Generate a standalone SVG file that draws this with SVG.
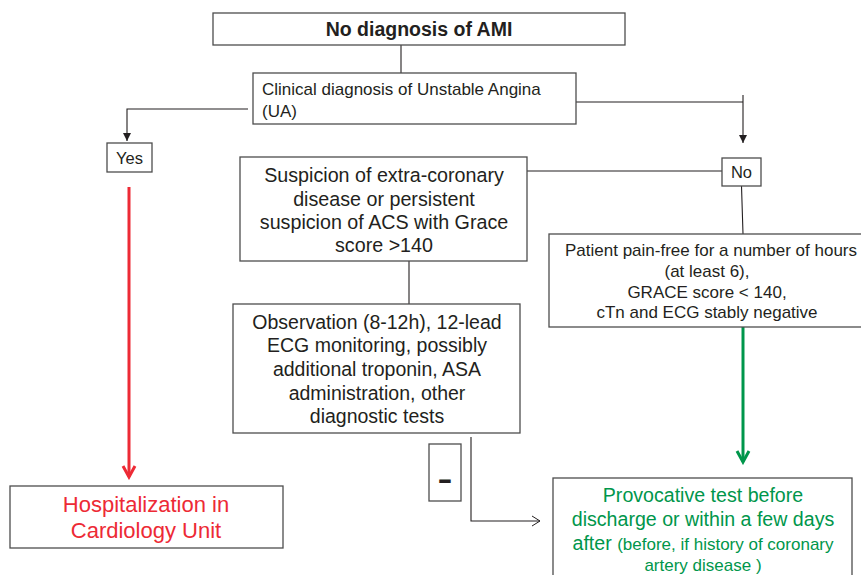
<svg xmlns="http://www.w3.org/2000/svg" width="861" height="575" viewBox="0 0 861 575">
<style>
.box{fill:#fff;stroke:#4d4d4d;stroke-width:1.3}
.t{font-family:"Liberation Sans",Arial,sans-serif;fill:#231f20}
.c{text-anchor:middle}
.ln{fill:none;stroke:#231f20;stroke-width:1.1}
.red{fill:#ed2a35}
.grn{fill:#00964b}
</style>
<defs>
<marker id="ab" markerWidth="10" markerHeight="10" refX="8" refY="5" orient="auto" markerUnits="userSpaceOnUse">
<path d="M0,1 L8,5 L0,9 Z" fill="#231f20"/>
</marker>
<marker id="ar" markerWidth="16" markerHeight="16" refX="13" refY="8" orient="auto" markerUnits="userSpaceOnUse">
<path d="M2,2 L13,8 L2,14" fill="none" stroke="#ed2a35" stroke-width="3"/>
</marker>
<marker id="ag" markerWidth="16" markerHeight="16" refX="13" refY="8" orient="auto" markerUnits="userSpaceOnUse">
<path d="M2,2 L13,8 L2,14" fill="none" stroke="#00964b" stroke-width="3"/>
</marker>
<marker id="ao" markerWidth="12" markerHeight="12" refX="9" refY="6" orient="auto" markerUnits="userSpaceOnUse">
<path d="M1,1 L9,6 L1,11" fill="none" stroke="#231f20" stroke-width="1"/>
</marker>
</defs>
<rect width="861" height="575" fill="#fff"/>
<g id="connectors">
<path class="ln" d="M401,45 V73"/>
<path class="ln" d="M401,109 V124"/>
<path class="ln" d="M248,109 H127 V141" marker-end="url(#ab)"/>
<path class="ln" d="M576,102 H743"/>
<path class="ln" d="M743,95 V143" marker-end="url(#ab)"/>
<path class="ln" d="M527,171 H722"/>
<path class="ln" d="M741.5,186 L743,234"/>
<path class="ln" d="M409,261 V304"/>
<path class="ln" d="M471,437 V521 H540" marker-end="url(#ao)"/>
<path d="M129,187 V477" fill="none" stroke="#ed2a35" stroke-width="3" marker-end="url(#ar)"/>
<path d="M743,327 V462" fill="none" stroke="#00964b" stroke-width="3" marker-end="url(#ag)"/>
</g>
<g id="n-ami">
<rect class="box" x="213" y="13" width="412" height="32"/>
<text class="t c" x="419" y="36" font-size="19.5" font-weight="bold">No diagnosis of AMI</text>
</g>
<g id="n-ua">
<rect class="box" x="253" y="73" width="323" height="51"/>
<text class="t" x="262" y="95" font-size="17">Clinical diagnosis of Unstable Angina</text>
<text class="t" x="262" y="117" font-size="17">(UA)</text>
</g>
<g id="n-yes">
<rect class="box" x="107" y="143" width="45" height="29"/>
<text class="t c" x="129.5" y="163.5" font-size="16.5">Yes</text>
</g>
<g id="n-no">
<rect class="box" x="722" y="158" width="39" height="28"/>
<text class="t c" x="741.5" y="178" font-size="16.5">No</text>
</g>
<g id="n-susp">
<rect class="box" x="240" y="157" width="287" height="104"/>
<text class="t c" font-size="19.7"><tspan x="384" y="182">Suspicion of extra-coronary</tspan><tspan x="384" y="206">disease or persistent</tspan><tspan x="384" y="229">suspicion of ACS with Grace</tspan><tspan x="384" y="252">score &gt;140</tspan></text>
</g>
<g id="n-obs">
<rect class="box" x="233" y="304" width="287" height="129"/>
<text class="t c" font-size="19.5"><tspan x="377" y="329">Observation (8-12h), 12-lead</tspan><tspan x="377" y="352">ECG monitoring, possibly</tspan><tspan x="377" y="376">additional troponin, ASA</tspan><tspan x="377" y="400">administration, other</tspan><tspan x="377" y="423">diagnostic tests</tspan></text>
</g>
<g id="n-pain">
<rect class="box" x="549" y="234" width="320" height="93"/>
<text class="t c" font-size="17"><tspan x="711" y="256">Patient pain-free for a number of hours</tspan><tspan x="707" y="277">(at least 6),</tspan><tspan x="707" y="298">GRACE score &lt; 140,</tspan><tspan x="707" y="318">cTn and ECG stably negative</tspan></text>
</g>
<g id="n-minus">
<rect class="box" x="429" y="444" width="32" height="57"/>
<text class="t c" x="445" y="489" font-size="30" font-weight="bold" transform="translate(445,0) scale(1.5,1) translate(-445,0)">-</text>
</g>
<g id="n-hosp">
<rect class="box" x="10" y="486" width="273" height="62"/>
<text class="t c red" font-size="22"><tspan x="146" y="512">Hospitalization in</tspan><tspan x="146" y="538">Cardiology Unit</tspan></text>
</g>
<g id="n-prov">
<rect class="box" x="553" y="478" width="299" height="110"/>
<text class="t c grn" font-size="19.6"><tspan x="703" y="502">Provocative test before</tspan><tspan x="703" y="526">discharge or within a few days</tspan><tspan x="703" y="550">after <tspan font-size="17">(before, if history of coronary</tspan></tspan><tspan x="703" y="571" font-size="17">artery disease )</tspan></text>
</g>
</svg>
